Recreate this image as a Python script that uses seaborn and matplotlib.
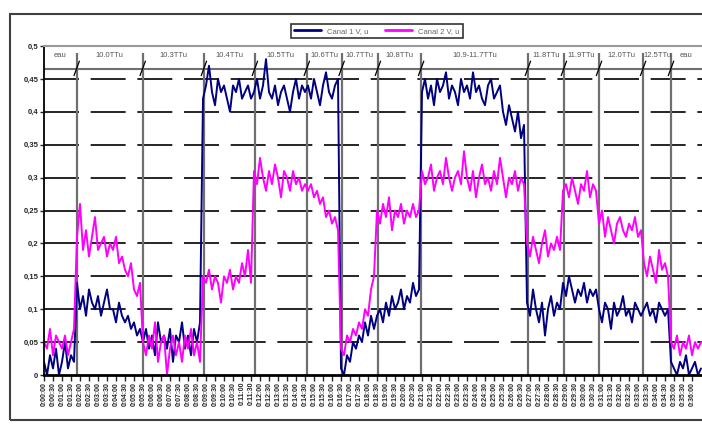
import matplotlib

matplotlib.use("Agg")
import matplotlib.pyplot as plt
import numpy as np
import pandas as pd
import seaborn as sns
from matplotlib.lines import Line2D
from matplotlib.patches import Rectangle

# Readings, one value per sample, segment by segment
canal1 = [
    0.02, 0.0, 0.03, 0.01, 0.04, 0.0, 0.02, 0.05, 0.01, 0.03, 0.02,  # eau
    0.14, 0.10, 0.12, 0.09, 0.13, 0.11, 0.10, 0.12, 0.09, 0.11,
    0.13, 0.10, 0.10, 0.08, 0.11, 0.09, 0.08, 0.09, 0.07, 0.08, 0.06, 0.07,  # 10.0
    0.05, 0.07, 0.04, 0.06, 0.03, 0.08, 0.05, 0.06, 0.04, 0.07,
    0.02, 0.06, 0.05, 0.08, 0.04, 0.06, 0.03, 0.07, 0.05, 0.08,  # 10.3
    0.42, 0.44, 0.47, 0.43, 0.41, 0.45, 0.43, 0.44, 0.42, 0.40,
    0.44, 0.43, 0.45, 0.42, 0.43, 0.44, 0.42,  # 10.4
    0.43, 0.45, 0.42, 0.44, 0.48, 0.43, 0.42, 0.44, 0.41, 0.43,
    0.44, 0.42, 0.40, 0.43, 0.45, 0.42, 0.44, 0.43,  # 10.5
    0.44, 0.42, 0.45, 0.43, 0.41, 0.44, 0.46, 0.43, 0.42, 0.44, 0.45,  # 10.6
    0.01, 0.0, 0.03, 0.02, 0.05, 0.04, 0.06, 0.05, 0.08, 0.06, 0.09, 0.07,  # 10.7
    0.09, 0.10, 0.08, 0.11, 0.09, 0.12, 0.10, 0.11, 0.13, 0.10,
    0.12, 0.11, 0.14, 0.12, 0.13,  # 10.8
    0.43, 0.45, 0.42, 0.44, 0.41, 0.45, 0.43, 0.44, 0.46, 0.42,
    0.44, 0.43, 0.41, 0.45, 0.43, 0.44, 0.42, 0.46, 0.43, 0.44,
    0.42, 0.41, 0.44, 0.45, 0.42, 0.43, 0.44,
    0.40, 0.38, 0.41, 0.39, 0.37, 0.40, 0.36, 0.38,  # 10.9-11.7
    0.11, 0.09, 0.13, 0.10, 0.08, 0.11, 0.06, 0.10, 0.12, 0.09, 0.11, 0.10,  # 11.8
    0.14, 0.12, 0.15, 0.13, 0.11, 0.13, 0.12, 0.14, 0.11, 0.13, 0.12, 0.13,  # 11.9
    0.10, 0.08, 0.11, 0.10, 0.07, 0.11, 0.09, 0.10, 0.12, 0.09,
    0.10, 0.08, 0.11, 0.10, 0.09,  # 12.0
    0.10, 0.11, 0.09, 0.10, 0.08, 0.11, 0.10, 0.09, 0.10,  # 12.5
    0.02, 0.01, 0.0, 0.02, 0.01, 0.03, 0.0, 0.01, 0.02, 0.0, 0.01,  # eau
]
canal2 = [
    0.05, 0.04, 0.07, 0.03, 0.06, 0.05, 0.04, 0.06, 0.03, 0.05, 0.07,
    0.21, 0.26, 0.19, 0.22, 0.18, 0.21, 0.24, 0.19, 0.20, 0.21,
    0.18, 0.20, 0.19, 0.21, 0.17, 0.18, 0.16, 0.15, 0.17, 0.13, 0.12, 0.14,
    0.05, 0.03, 0.06, 0.04, 0.08, 0.02, 0.05, 0.06, 0.0, 0.04,
    0.06, 0.03, 0.05, 0.02, 0.06, 0.04, 0.07, 0.03, 0.05, 0.02,
    0.15, 0.14, 0.16, 0.13, 0.15, 0.14, 0.11, 0.15, 0.14, 0.16,
    0.13, 0.15, 0.14, 0.17, 0.15, 0.19, 0.14,
    0.31, 0.29, 0.33, 0.30, 0.28, 0.31, 0.29, 0.32, 0.30, 0.27,
    0.31, 0.30, 0.28, 0.31, 0.29, 0.30, 0.28, 0.29,
    0.28, 0.29, 0.27, 0.28, 0.26, 0.27, 0.24, 0.25, 0.23, 0.24, 0.22,
    0.04, 0.03, 0.06, 0.05, 0.07, 0.06, 0.08, 0.07, 0.10, 0.09, 0.13, 0.15,
    0.25, 0.23, 0.26, 0.24, 0.27, 0.22, 0.25, 0.24, 0.26, 0.23,
    0.25, 0.24, 0.26, 0.24, 0.25,
    0.31, 0.29, 0.30, 0.32, 0.28, 0.30, 0.31, 0.29, 0.33, 0.30,
    0.28, 0.30, 0.31, 0.29, 0.34, 0.30, 0.28, 0.31, 0.27, 0.30,
    0.32, 0.29, 0.30, 0.28, 0.31, 0.29, 0.33, 0.30, 0.27, 0.30,
    0.29, 0.31, 0.28, 0.30, 0.29,
    0.20, 0.18, 0.21, 0.19, 0.17, 0.20, 0.22, 0.18, 0.20, 0.19, 0.21, 0.19,
    0.28, 0.29, 0.27, 0.30, 0.28, 0.26, 0.29, 0.28, 0.31, 0.27, 0.29, 0.28,
    0.23, 0.25, 0.21, 0.24, 0.22, 0.20, 0.23, 0.24, 0.22, 0.21,
    0.23, 0.22, 0.24, 0.21, 0.22,
    0.17, 0.15, 0.18, 0.16, 0.14, 0.19, 0.16, 0.17, 0.15,
    0.05, 0.04, 0.06, 0.03, 0.05, 0.04, 0.06, 0.03, 0.05, 0.04, 0.05,
]
series_names = ["Canal 1 V, u", "Canal 2 V, u"]
series_colors = ["#000080", "#FF00FF"]

# sample index where each sample changes
boundaries = [10.9, 32.9, 53.3, 70.3, 87.6, 99.2, 111.3, 125.7, 161.3, 173.3, 185.0, 199.7, 209.0]
segment_labels = [
    "eau", "10.0TTu", "10.3TTu", "10.4TTu", "10.5TTu", "10.6TTu", "10.7TTu",
    "10.8TTu", "10.9-11.7TTu", "11.8TTu", "11.9TTu", "12.0TTu", "12.5TTu", "eau",
]

y_ticks = [0, 0.05, 0.1, 0.15, 0.2, 0.25, 0.3, 0.35, 0.4, 0.45, 0.5]
y_tick_labels = ["0", "0,05", "0,1", "0,15", "0,2", "0,25", "0,3", "0,35", "0,4", "0,45", "0,5"]
x_tick_labels = [
    "0:00:00", "0:00:30", "0:01:00", "0:01:30", "0:02:00", "0:02:30", "0:03:00", "0:03:30",
    "0:04:00", "0:04:30", "0:05:00", "0:05:30", "0:06:00", "0:06:30", "0:07:00", "0:07:30",
    "0:08:00", "0:08:30", "0:09:00", "0:09:30", "0:10:00", "0:10:30", "0:11:00", "0:11:30",
    "0:12:00", "0:12:30", "0:13:00", "0:13:30", "0:14:00", "0:14:30", "0:15:00", "0:15:30",
    "0:16:00", "0:16:30", "0:17:00", "0:17:30", "0:18:00", "0:18:30", "0:19:00", "0:19:30",
    "0:20:00", "0:20:30", "0:21:00", "0:21:30", "0:22:00", "0:22:30", "0:23:00", "0:23:30",
    "0:24:00", "0:24:30", "0:25:00", "0:25:30", "0:26:00", "0:26:30", "0:27:00", "0:27:30",
    "0:28:00", "0:28:30", "0:29:00", "0:29:30", "0:30:00", "0:30:30", "0:31:00", "0:31:30",
    "0:32:00", "0:32:30", "0:33:00", "0:33:30", "0:34:00", "0:34:30", "0:35:00", "0:35:30",
    "0:36:00",
]

sns.set_style("white")
plt.rcParams["font.family"] = ["Liberation Sans", "DejaVu Sans"]

df = pd.DataFrame({
    "sample": np.r_[np.arange(len(canal1)), np.arange(len(canal2))],
    "value": canal1 + canal2,
    "canal": [series_names[0]] * len(canal1) + [series_names[1]] * len(canal2),
})

fig = plt.figure(figsize=(7.02, 4.24), dpi=100)
ax = fig.add_axes([44 / 702, 49 / 424, 658 / 702, 329 / 424])
x_max = 658 / 3

# dashed grid, segment markers and the arrow line on top
for y in y_ticks[1:-1]:
    ax.axhline(y, color="black", lw=1.2, ls=(0, (21, 7)), zorder=0.5)
ax.vlines(boundaries, 0, 0.489, colors="#6f6f6f", lw=1.6, zorder=1)
ax.axhline(0.465, color="#6f6f6f", lw=1.5, zorder=1)
for b in boundaries:
    ax.plot([b - 0.9, b + 0.9], [0.455, 0.477], color="black", lw=0.9, zorder=1.2)

sns.lineplot(data=df, x="sample", y="value", hue="canal", palette=series_colors,
             estimator=None, lw=1.4, legend=False, ax=ax, zorder=2)

edges = [0] + boundaries + [x_max]
for i, label in enumerate(segment_labels):
    ax.text((edges[i] + edges[i + 1]) / 2, 0.486, label, ha="center", va="center",
            fontsize=5.5, color="#555555", zorder=3)

ax.set_xlim(0, x_max)
ax.set_ylim(0, 0.5)
ax.set_xlabel("")
ax.set_ylabel("")
ax.set_yticks(y_ticks, y_tick_labels, fontsize=5.5, fontweight="bold")
ax.set_xticks(np.arange(0, 3 * len(x_tick_labels), 3), x_tick_labels, rotation=90,
              fontsize=5, fontweight="bold")
ax.tick_params(axis="y", direction="out", length=3, width=1, pad=1, left=True)
ax.tick_params(axis="x", direction="out", length=4, width=1, pad=1, bottom=True)

ax.spines["right"].set_visible(False)
ax.spines["top"].set_color("#999999")
ax.spines["top"].set_linewidth(1.5)
ax.spines["left"].set_color("black")
ax.spines["left"].set_linewidth(1.3)
ax.spines["bottom"].set_color("black")
ax.spines["bottom"].set_linewidth(2)

handles = [Line2D([], [], color=c, lw=2) for c in series_colors]
leg = fig.legend(handles, series_names, loc="center", bbox_to_anchor=(377 / 702, 1 - 31 / 424),
                 ncol=2, fontsize=5.5, frameon=True, fancybox=False, edgecolor="black",
                 handlelength=3.5, columnspacing=2.2, borderpad=0.4)
leg.get_frame().set_linewidth(1.2)
for t in leg.get_texts():
    t.set_color("#666666")

fig.add_artist(Rectangle((10 / 702, 4 / 424), 1.0, 406 / 424, transform=fig.transFigure,
                         fill=False, edgecolor="#404040", lw=1.5))

fig.savefig("out.png", dpi=100)
plt.close(fig)
